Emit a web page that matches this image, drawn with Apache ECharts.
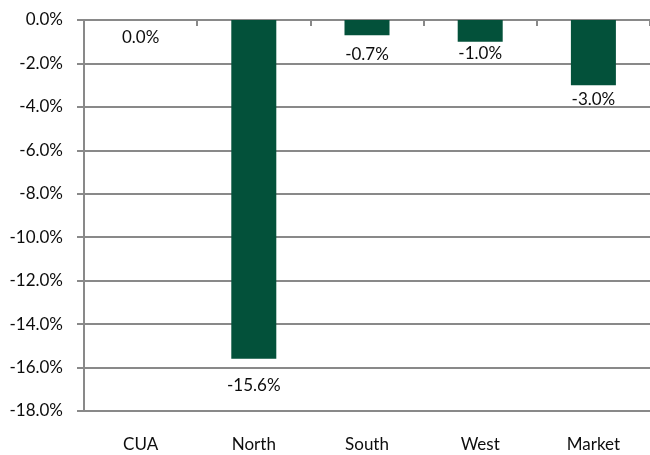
<!DOCTYPE html>
<html>
<head>
<meta charset="utf-8">
<script src="https://cdn.jsdelivr.net/npm/echarts@6/dist/echarts.min.js"></script>
<style>
  html, body { margin: 0; padding: 0; background: #fff; }
  #chart { width: 650px; height: 455px; }
</style>
</head>
<body>
<div id="chart"></div>
<script>
// Change by region, in percent
const categories = ['CUA', 'North', 'South', 'West', 'Market'];
const changes = [0.0, -15.6, -0.7, -1.0, -3.0];

const yMin = -18;
const yMax = 0;
const yStep = 2;

const gridColor = '#898989';
const textColor = '#0d0d0d';
const barColor = '#03513a';
const fontFamily = 'Lato, "Open Sans", sans-serif';
const fontSize = 17;

// gap between each bar's end and its value label
const labelGap = [9, 18, 11, 3, 6];

const barData = changes.map((v, i) => ({
  value: v,
  label: { distance: labelGap[i] }
}));

const chart = echarts.init(document.getElementById('chart'), null, { renderer: 'canvas' });

chart.setOption({
  animation: false,
  backgroundColor: '#ffffff',
  grid: { left: 84, right: 0, top: 20, bottom: 44, containLabel: false },
  xAxis: [
    {
      type: 'category',
      data: categories,
      position: 'bottom',
      boundaryGap: true,
      axisLine: { show: true, onZero: false, lineStyle: { color: gridColor, width: 2 } },
      axisTick: { show: false },
      axisLabel: { color: textColor, fontSize: fontSize, fontFamily: fontFamily, margin: 25 }
    },
    {
      type: 'category',
      data: categories,
      position: 'top',
      boundaryGap: true,
      axisLine: { show: true, onZero: false, lineStyle: { color: gridColor, width: 2 } },
      axisTick: { show: true, inside: true, length: 6, alignWithLabel: false, lineStyle: { color: gridColor, width: 2 } },
      axisLabel: { show: false }
    }
  ],
  yAxis: {
    type: 'value',
    min: yMin,
    max: yMax,
    interval: yStep,
    axisLine: { show: true, lineStyle: { color: gridColor, width: 2 } },
    axisTick: { show: true, length: 7, lineStyle: { color: gridColor, width: 2 } },
    splitLine: { show: true, lineStyle: { color: gridColor, width: 2 } },
    axisLabel: {
      color: textColor,
      fontSize: fontSize,
      fontFamily: fontFamily,
      margin: 21,
      formatter: v => v.toFixed(1) + '%'
    }
  },
  series: [
    {
      type: 'bar',
      xAxisIndex: 0,
      data: barData,
      barWidth: 45,
      itemStyle: { color: barColor },
      label: {
        show: true,
        position: 'bottom',
        color: textColor,
        fontSize: fontSize,
        fontFamily: fontFamily,
        formatter: p => p.value.toFixed(1) + '%'
      }
    }
  ]
});
</script>
</body>
</html>
